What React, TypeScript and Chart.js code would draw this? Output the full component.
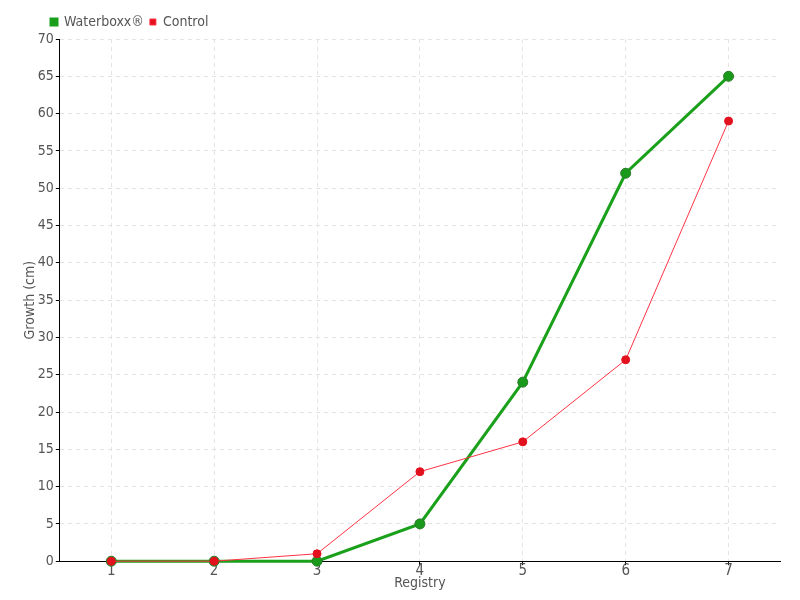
import React, { useEffect, useRef } from "react";
import { Chart, registerables } from "chart.js";

Chart.register(...registerables);

const categories = ["1", "2", "3", "4", "5", "6", "7"];
const waterboxx = [0, 0, 0, 5, 24, 52, 65];
const control = [0, 0, 1, 12, 16, 27, 59];

const FONT = "'Liberation Sans Narrow', 'DejaVu Sans Condensed', 'DejaVu Sans', sans-serif";
const TEXT = "#555555";

const shiftLegend = {
  id: "shiftLegend",
  afterLayout(chart: any) {
    if (chart.legend) {
      chart.legend.left += 32;
    }
  },
};

export default function App() {
  const ref = useRef<HTMLCanvasElement | null>(null);
  useEffect(() => {
    if (!ref.current) return;
    const chart = new Chart(ref.current, {
      type: "line",
      data: {
        labels: categories,
        datasets: [
          {
            label: "Waterboxx®",
            data: waterboxx,
            borderColor: "#1aa01a",
            backgroundColor: "#1a9a1a",
            pointBorderColor: "#2a7a2a",
            pointBorderWidth: 1,
            borderWidth: 3,
            pointRadius: 5,
            tension: 0,
            order: 2,
            clip: false,
          },
          {
            label: "Control",
            data: control,
            borderColor: "#ff3344",
            backgroundColor: "#e3101e",
            pointBorderColor: "#e3101e",
            borderWidth: 1,
            pointRadius: 4,
            tension: 0,
            order: 1,
            clip: false,
          },
        ],
      },
      plugins: [shiftLegend],
      options: {
        animation: false,
        responsive: true,
        maintainAspectRatio: false,
        layout: { padding: { left: 13, right: 20, top: 9, bottom: 8 } },
        plugins: {
          legend: {
            align: "start",
            labels: {
              boxWidth: 6,
              boxHeight: 6,
              padding: 6,
              color: TEXT,
              font: { family: FONT, size: 14 },
              sort: (a: any, b: any) => a.datasetIndex - b.datasetIndex,
            },
          },
          tooltip: { enabled: false },
        },
        scales: {
          x: {
            offset: true,
            title: {
              display: true,
              text: "Registry",
              color: TEXT,
              font: { family: FONT, size: 14 },
              padding: { top: -2, bottom: 0 },
            },
            grid: {
              offset: false,
              color: "#e4e4e4",
              tickColor: "#000",
              tickLength: 4,
              drawOnChartArea: true,
            },
            border: { color: "#000", width: 1, dash: [4, 4] },
            ticks: { color: TEXT, font: { family: FONT, size: 15 }, padding: -3 },
          },
          y: {
            min: 0,
            max: 70,
            title: {
              display: true,
              text: "Growth (cm)",
              color: TEXT,
              font: { family: FONT, size: 14 },
              padding: { top: 9, bottom: -3 },
            },
            grid: {
              color: "#e4e4e4",
              tickColor: "#000",
              tickLength: 4,
            },
            border: { color: "#000", width: 1, dash: [4, 4] },
            ticks: { stepSize: 5, color: TEXT, font: { family: FONT, size: 14 }, padding: 2 },
          },
        },
      },
    });
    return () => chart.destroy();
  }, []);
  return (
    <div style={{ position: "fixed", left: 0, top: 0, width: 800, height: 600 }}>
      <canvas ref={ref} />
    </div>
  );
}
